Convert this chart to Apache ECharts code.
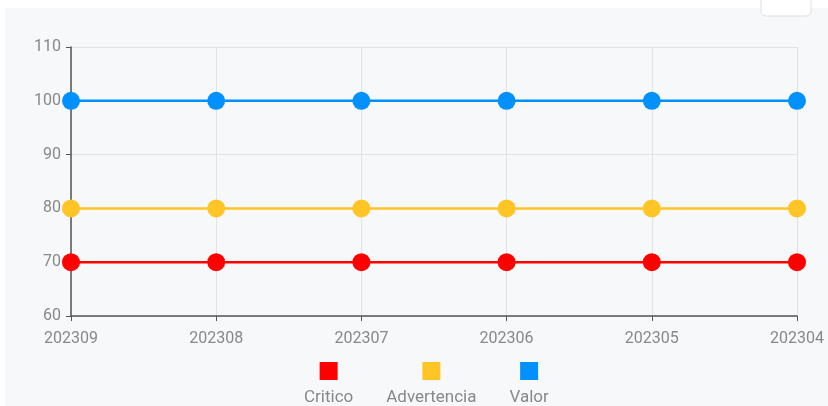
<!DOCTYPE html>
<html>
<head>
<meta charset="utf-8">
<script src="https://cdn.jsdelivr.net/npm/echarts@6/dist/echarts.min.js"></script>
<style>
  html, body { margin: 0; padding: 0; background: #fff; }
  #echart { width: 828px; height: 406px; }
</style>
</head>
<body>
<div id="echart"></div>
<script>
// 横坐标
const xData = ["202309", "202308", "202307", "202306", "202305", "202304"];
// 系列数据
const critico = [70, 70, 70, 70, 70, 70];
const advertencia = [80, 80, 80, 80, 80, 80];
const valor = [100, 100, 100, 100, 100, 100];

const colors = {
  Critico: "#ff0000",
  Advertencia: "#ffc425",
  Valor: "#0091ff",
};

function lineSeries(name, data) {
  return {
    name: name,
    type: "line",
    data: data,
    symbol: "circle",
    symbolSize: 18,
    lineStyle: { width: 2.5, color: colors[name] },
    itemStyle: { color: colors[name] },
  };
}

const chart = echarts.init(document.getElementById("echart"));
chart.setOption({
  animation: false,
  textStyle: { fontFamily: "Roboto" },
  // 背景
  graphic: [
    {
      type: "rect",
      z: -10,
      shape: { x: 5, y: 8, width: 823, height: 398 },
      style: { fill: "#f7f8fa" },
    },
    {
      type: "rect",
      z: -9,
      shape: { x: 761, y: -6, width: 50, height: 22, r: 5 },
      style: { fill: "#fff", stroke: "#dedede", lineWidth: 1 },
    },
  ],
  grid: { left: 71, right: 31, top: 47, bottom: 90, containLabel: false },
  legend: {
    left: 299,
    top: 362,
    padding: 0,
    itemGap: 28,
    itemWidth: 0,
    itemHeight: 0,
    icon: "rect",
    data: ["Critico", "Advertencia", "Valor"],
    formatter: function (name) {
      return "{" + name + "|}\n{t|" + name + "}";
    },
    textStyle: {
      rich: {
        Critico: { width: 18, height: 18, backgroundColor: colors.Critico, align: "center" },
        Advertencia: { width: 18, height: 18, backgroundColor: colors.Advertencia, align: "center" },
        Valor: { width: 18, height: 18, backgroundColor: colors.Valor, align: "center" },
        t: { fontSize: 17, color: "#888", lineHeight: 26, align: "center", verticalAlign: "bottom" },
      },
    },
  },
  xAxis: {
    type: "category",
    data: xData,
    boundaryGap: false,
    axisLine: { lineStyle: { color: "#555", width: 1.5 } },
    axisTick: { show: true, length: 5, lineStyle: { color: "#555" } },
    axisLabel: { color: "#888", fontSize: 16, margin: 15, interval: 0 },
    splitLine: { show: true, lineStyle: { color: "#e3e3e3" } },
  },
  yAxis: {
    type: "value",
    min: 60,
    max: 110,
    interval: 10,
    axisLine: { show: true, lineStyle: { color: "#555", width: 1.5 } },
    axisTick: { show: true, length: 5, lineStyle: { color: "#555" } },
    axisLabel: { color: "#888", fontSize: 16, margin: 10 },
    splitLine: { show: true, lineStyle: { color: "#e3e3e3" } },
  },
  series: [
    lineSeries("Critico", critico),
    lineSeries("Advertencia", advertencia),
    lineSeries("Valor", valor),
  ],
});
</script>
</body>
</html>
